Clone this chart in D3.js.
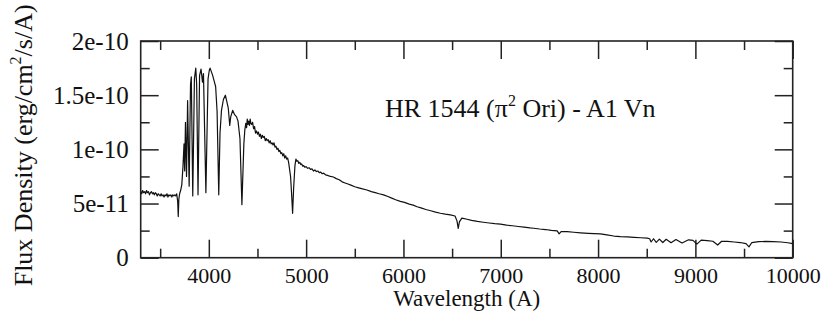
<!DOCTYPE html>
<html>
<head>
<meta charset="utf-8">
<script src="https://cdn.jsdelivr.net/npm/d3@7"></script>
<style>
  body { margin: 0; background: #fff; }
  svg text { font-family: "Liberation Serif", "Times New Roman", serif; fill: #111; }
</style>
</head>
<body>
<svg id="chart"></svg>
<script>
// spectrum: wavelength in A, flux in units of 1e-11 erg/cm2/s/A
const wavelength = [
  3300, 3310, 3320, 3330, 3340, 3350, 3360, 3370, 3380, 3390,
  3400, 3410, 3420, 3430, 3440, 3450, 3460, 3470, 3480, 3490,
  3500, 3510, 3520, 3530, 3540, 3550, 3560, 3570, 3580, 3590,
  3600, 3610, 3620, 3630, 3640, 3650, 3660, 3670, 3680, 3686,
  3692, 3700, 3710, 3722, 3735, 3745, 3752, 3760, 3771, 3782,
  3798, 3812, 3820, 3835, 3852, 3866, 3875, 3889, 3905, 3920,
  3935, 3945, 3970, 3992, 4005, 4013, 4025, 4040, 4055, 4070,
  4085, 4102, 4115, 4130, 4150, 4170, 4185, 4200, 4215, 4225,
  4245, 4265, 4285, 4300, 4320, 4340, 4360, 4370, 4380, 4388,
  4395, 4403, 4410, 4418, 4425, 4432, 4440, 4450, 4460, 4470,
  4480, 4490, 4500, 4510, 4520, 4530, 4540, 4550, 4560, 4570,
  4580, 4590, 4600, 4610, 4620, 4630, 4640, 4650, 4660, 4670,
  4680, 4690, 4700, 4710, 4720, 4730, 4740, 4750, 4760, 4770,
  4780, 4790, 4800, 4810, 4820, 4840, 4850, 4861, 4872, 4885,
  4895, 4905, 4915, 4925, 4935, 4945, 4955, 4965, 4975, 4985,
  5000, 5015, 5030, 5045, 5060, 5075, 5090, 5105, 5120, 5135,
  5150, 5165, 5180, 5200, 5220, 5250, 5280, 5310, 5340, 5370,
  5400, 5430, 5460, 5500, 5540, 5580, 5625, 5670, 5710, 5750,
  5796, 5840, 5880, 5920, 5968, 6010, 6060, 6100, 6140, 6180,
  6230, 6280, 6330, 6380, 6430, 6482, 6530, 6550, 6563, 6575,
  6600, 6654, 6700, 6760, 6820, 6880, 6940, 6997, 7060, 7120,
  7180, 7240, 7300, 7339, 7400, 7460, 7520, 7580, 7600, 7620,
  7683, 7750, 7820, 7900, 7960, 8025, 8090, 8162, 8230, 8300,
  8370, 8440, 8506, 8530, 8545, 8570, 8598, 8630, 8665, 8700,
  8750, 8800, 8863, 8930, 8975, 9015, 9060, 9120, 9180, 9229,
  9270, 9330, 9400, 9460, 9520, 9551, 9580, 9650, 9720, 9800,
  9880, 9950, 10000
];
const flux = [
  6.1, 5.9, 6.2, 6.0, 6.1, 5.9, 6.2, 6.0, 6.1, 5.8,
  6.0, 6.1, 5.9, 6.0, 5.8, 6.0, 5.9, 5.7, 5.9, 5.8,
  5.7, 5.9, 5.7, 5.8, 5.6, 5.8, 5.7, 5.9, 5.6, 5.8,
  5.7, 5.8, 5.6, 5.8, 5.7, 5.8, 5.7, 5.9, 5.2, 3.8,
  5.4, 5.9, 6.2, 6.7, 8.5, 10.5, 8.0, 12.5, 7.5, 14.5,
  6.6, 16.0, 16.7, 5.7, 16.5, 17.5, 16.0, 5.8, 16.8, 17.4,
  16.2, 17.0, 6.0, 16.5, 17.3, 17.5, 17.2, 16.8, 16.3, 15.8,
  13.5, 5.8, 11.5, 13.6, 14.6, 15.0, 14.4, 13.8, 12.2, 13.0,
  13.6, 13.2, 13.0, 12.6, 11.0, 4.9, 10.5, 11.8, 12.4, 12.0,
  12.8, 12.3, 12.6, 12.2, 12.8, 12.4, 12.3, 12.5, 11.9, 12.1,
  11.5, 11.7, 11.4, 11.6, 11.2, 11.4, 11.0, 11.3, 11.1, 11.2,
  10.8, 11.0, 10.8, 10.9, 10.6, 10.8, 10.5, 10.6, 10.4, 10.6,
  10.2, 10.3, 10.0, 10.1, 9.8, 9.9, 9.6, 9.7, 9.4, 9.6,
  9.2, 9.4, 9.1, 9.2, 8.8, 7.5, 6.0, 4.1, 6.5, 8.5,
  9.1, 8.9, 8.95, 8.7, 8.8, 8.6, 8.65, 8.45, 8.5, 8.35,
  8.4, 8.25, 8.3, 8.15, 8.2, 8.0, 8.1, 7.95, 8.0, 7.85,
  7.9, 7.75, 7.8, 7.65, 7.6, 7.5, 7.45, 7.3, 7.2, 7.0,
  6.9, 6.8, 6.7, 6.55, 6.45, 6.35, 6.25, 6.1, 6.0, 5.9,
  5.8, 5.65, 5.5, 5.35, 5.2, 5.1, 4.95, 4.85, 4.7, 4.6,
  4.45, 4.33, 4.2, 4.1, 4.02, 3.95, 3.85, 3.4, 2.7, 3.3,
  3.65, 3.55, 3.45, 3.35, 3.27, 3.2, 3.14, 3.1, 3.0, 2.95,
  2.88, 2.82, 2.75, 2.72, 2.65, 2.6, 2.53, 2.48, 2.2, 2.4,
  2.4, 2.35, 2.3, 2.25, 2.22, 2.2, 2.1, 2.0, 1.95, 1.92,
  1.88, 1.84, 1.8, 1.75, 1.45, 1.75, 1.42, 1.72, 1.4, 1.7,
  1.38, 1.68, 1.35, 1.65, 1.6, 1.25, 1.62, 1.58, 1.52, 1.17,
  1.52, 1.5, 1.45, 1.4, 1.3, 1.0, 1.4, 1.48, 1.5, 1.48,
  1.45, 1.38, 1.3
];

const xMajorTicks = [4000, 5000, 6000, 7000, 8000, 9000, 10000];
const xMinorTicks = [3500, 4500, 5500, 6500, 7500, 8500, 9500];
const yMajorTicks = [0, 5, 10, 15, 20];
const yMinorTicks = [2.5, 7.5, 12.5, 17.5];
const yTickLabels = ['0', '5e-11', '1e-10', '1.5e-10', '2e-10'];

const width = 827;
const height = 321;
const margin = { left: 140.7, right: 827 - 792.7, top: 41, bottom: 321 - 257.7 };

const svg = d3.select('#chart').attr('width', width).attr('height', height);

svg.append('rect').attr('width', width).attr('height', height).attr('fill', '#fff');

const x = d3.scaleLinear().domain([3300, 10000]).range([margin.left, width - margin.right]);
const y = d3.scaleLinear().domain([0, 20]).range([height - margin.bottom, margin.top]);

const plotW = width - margin.left - margin.right;
const plotH = height - margin.top - margin.bottom;
const majorLen = 18;
const minorLen = 9;

function styleAxis(g, size) {
    g.attr('font-family', '"Liberation Serif", serif');
    g.select('.domain').remove();
    g.selectAll('line').attr('stroke', '#222').attr('stroke-width', 1.5);
    g.selectAll('text').attr('fill', '#111').style('font-size', (size || 22) + 'px');
}

// bottom
svg.append('g')
    .attr('transform', `translate(0,${y(0)})`)
    .call(d3.axisBottom(x).tickValues(xMajorTicks).tickSize(-majorLen).tickPadding(10)
        .tickFormat(d3.format('d')))
    .call(styleAxis, 22);
svg.append('g')
    .attr('transform', `translate(0,${y(0)})`)
    .call(d3.axisBottom(x).tickValues(xMinorTicks).tickSize(-minorLen).tickFormat(''))
    .call(styleAxis);
// top
svg.append('g')
    .attr('transform', `translate(0,${y(20)})`)
    .call(d3.axisTop(x).tickValues(xMajorTicks).tickSize(-majorLen).tickFormat(''))
    .call(styleAxis);
svg.append('g')
    .attr('transform', `translate(0,${y(20)})`)
    .call(d3.axisTop(x).tickValues(xMinorTicks).tickSize(-minorLen).tickFormat(''))
    .call(styleAxis);
// left
svg.append('g')
    .attr('transform', `translate(${x(3300)},0)`)
    .call(d3.axisLeft(y).tickValues(yMajorTicks).tickSize(-majorLen).tickPadding(12)
        .tickFormat((d, i) => yTickLabels[i]))
    .call(styleAxis, 25);
svg.append('g')
    .attr('transform', `translate(${x(3300)},0)`)
    .call(d3.axisLeft(y).tickValues(yMinorTicks).tickSize(-minorLen).tickFormat(''))
    .call(styleAxis);
// right
svg.append('g')
    .attr('transform', `translate(${x(10000)},0)`)
    .call(d3.axisRight(y).tickValues(yMajorTicks).tickSize(-majorLen).tickFormat(''))
    .call(styleAxis);
svg.append('g')
    .attr('transform', `translate(${x(10000)},0)`)
    .call(d3.axisRight(y).tickValues(yMinorTicks).tickSize(-minorLen).tickFormat(''))
    .call(styleAxis);

// frame
svg.append('rect')
    .attr('x', margin.left)
    .attr('y', margin.top)
    .attr('width', plotW)
    .attr('height', plotH)
    .attr('fill', 'none')
    .attr('stroke', '#222')
    .attr('stroke-width', 1.6);

// spectrum
const points = wavelength.map((w, i) => [w, flux[i]]);
const line = d3.line().x(d => x(d[0])).y(d => y(d[1]));

svg.append('path')
    .datum(points)
    .attr('d', line)
    .attr('fill', 'none')
    .attr('stroke', '#111')
    .attr('stroke-width', 1.2)
    .attr('stroke-linejoin', 'round');

// title inside the plot
const title = svg.append('text')
    .attr('x', 385)
    .attr('y', 117)
    .style('font-size', '26px');
title.append('tspan').text('HR 1544 (\u03c0');
title.append('tspan').attr('dy', -11).style('font-size', '16px').text('2');
title.append('tspan').attr('dy', 11).text(' Ori) - A1 Vn');

// axis titles
svg.append('text')
    .attr('x', (margin.left + width - margin.right) / 2)
    .attr('y', 306)
    .attr('text-anchor', 'middle')
    .style('font-size', '23px')
    .text('Wavelength (A)');

const ylab = svg.append('text')
    .attr('transform', `translate(32,${(margin.top + height - margin.bottom) / 2 - 4}) rotate(-90)`)
    .attr('text-anchor', 'middle')
    .style('font-size', '26px');
ylab.append('tspan').text('Flux Density (erg/cm');
ylab.append('tspan').attr('dy', -11).style('font-size', '16px').text('2');
ylab.append('tspan').attr('dy', 11).text('/s/A)');
</script>
</body>
</html>
